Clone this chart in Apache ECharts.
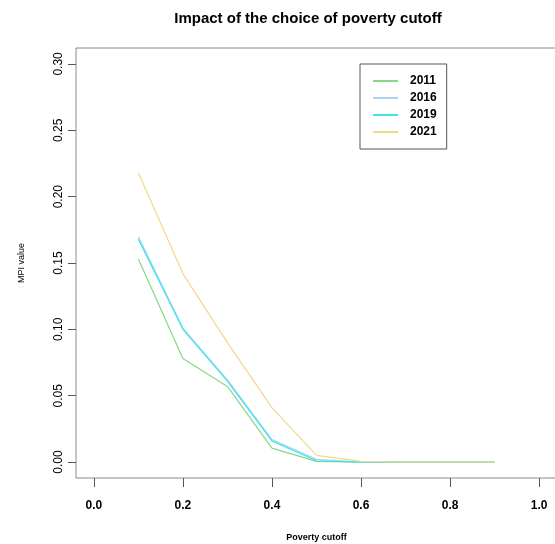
<!DOCTYPE html>
<html>
<head>
<meta charset="utf-8">
<script src="https://cdn.jsdelivr.net/npm/echarts@6/dist/echarts.min.js"></script>
<style>
  html, body { margin: 0; padding: 0; background: #fff; }
  #chart { width: 555px; height: 544px; }
</style>
</head>
<body>
<div id="chart"></div>
<script>
  // poverty cutoff values (x)
  const cutoffs = [0.1, 0.2, 0.3, 0.4, 0.5, 0.6, 0.7, 0.8, 0.9]
  const mpi2011 = [0.153, 0.078, 0.057, 0.0105, 0.0005, 0, 0, 0, 0]
  const mpi2016 = [0.170, 0.101, 0.062, 0.017, 0.002, 0, 0, 0, 0]
  const mpi2019 = [0.168, 0.100, 0.061, 0.016, 0.001, 0, 0, 0, 0]
  const mpi2021 = [0.218, 0.142, 0.090, 0.041, 0.005, 0.0005, 0, 0, 0]
  const years = ['2011', '2016', '2019', '2021']
  const colors = ['#86d886', '#a8d6f2', '#3fe2ee', '#f3d983']
  const xTicks = [0, 0.2, 0.4, 0.6, 0.8, 1.0]
  const yTicks = [0, 0.05, 0.10, 0.15, 0.20, 0.25, 0.30]

  const font = 'Liberation Sans'
  const allSeries = [mpi2011, mpi2016, mpi2019, mpi2021]

  let myChart = echarts.init(document.getElementById('chart'))
  let option = {
    animation: false,
    title: {
      text: 'Impact of the choice of poverty cutoff',
      left: 303,
      top: 6,
      textAlign: 'center',
      textStyle: {
        fontFamily: font,
        fontSize: 15,
        fontWeight: 'bold',
        color: '#000'
      }
    },
    grid: {
      left: 76,
      top: 48,
      width: 481,
      height: 430,
      outerBoundsMode: 'none',
      containLabel: false,
      show: true,
      borderColor: '#888',
      borderWidth: 1
    },
    legend: {
      orient: 'vertical',
      left: 360,
      top: 64,
      padding: [11, 10, 11, 13],
      borderColor: '#555',
      borderWidth: 1,
      itemGap: 5,
      itemWidth: 25,
      itemHeight: 2,
      icon: 'rect',
      data: years,
      textStyle: {
        fontFamily: font,
        fontSize: 12,
        fontWeight: 'bold',
        color: '#000',
        padding: [0, 0, 0, 7]
      }
    },
    xAxis: {
      type: 'value',
      min: -0.04,
      max: 1.04,
      name: 'Poverty cutoff',
      nameLocation: 'middle',
      nameGap: 55,
      nameTextStyle: {
        fontFamily: font,
        fontSize: 9,
        fontWeight: 'bold',
        color: '#000'
      },
      splitLine: { show: false },
      axisLine: { show: false, onZero: false },
      axisTick: {
        show: true,
        length: 9,
        customValues: xTicks,
        lineStyle: { color: '#555' }
      },
      axisLabel: {
        customValues: xTicks,
        margin: 22,
        fontFamily: font,
        fontSize: 12,
        fontWeight: 'bold',
        color: '#000',
        formatter: function (v) {
          return v.toFixed(1)
        }
      }
    },
    yAxis: {
      type: 'value',
      min: -0.012,
      max: 0.312,
      name: 'MPI value',
      nameLocation: 'middle',
      nameRotate: 90,
      nameGap: 50,
      nameTextStyle: {
        fontFamily: font,
        fontSize: 9,
        color: '#000'
      },
      splitLine: { show: false },
      axisLine: { show: false, onZero: false },
      axisTick: {
        show: true,
        length: 8,
        customValues: yTicks,
        lineStyle: { color: '#555' }
      },
      axisLabel: {
        customValues: yTicks,
        rotate: 90,
        margin: 11,
        fontFamily: font,
        fontSize: 12,
        color: '#000',
        formatter: function (v) {
          return v.toFixed(2)
        }
      }
    },
    series: years.map(function (y, i) {
      return {
        name: y,
        type: 'line',
        symbol: 'none',
        color: colors[i],
        lineStyle: { width: 1.2, color: colors[i] },
        data: cutoffs.map(function (c, j) {
          return [c, allSeries[i][j]]
        })
      }
    })
  }
  myChart.setOption(option)
</script>
</body>
</html>
